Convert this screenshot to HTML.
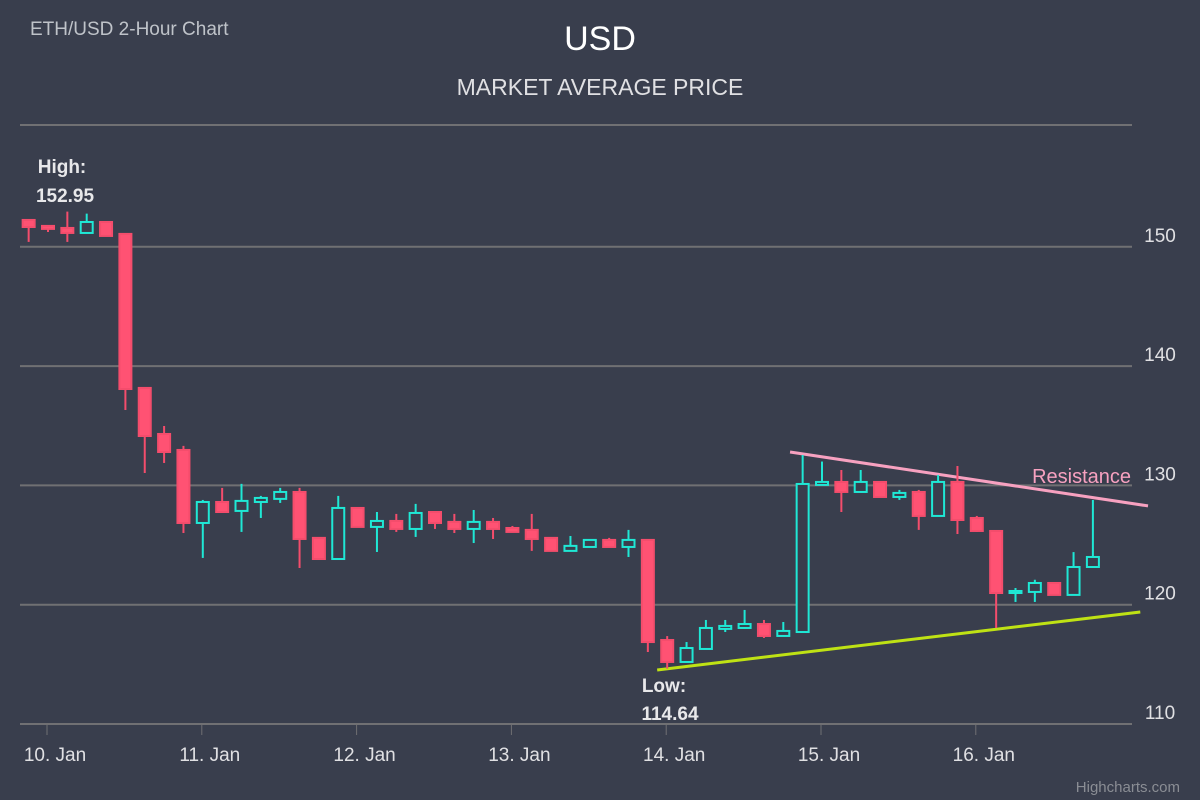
<!DOCTYPE html>
<html><head><meta charset="utf-8"><style>
html,body{margin:0;padding:0;background:#393e4d;}
svg{display:block;font-family:"Liberation Sans",sans-serif;}
</style></head><body>
<svg id="chart" width="1200" height="800" xmlns="http://www.w3.org/2000/svg">
<rect x="0" y="0" width="1200" height="800" fill="#393e4d"/>
<text x="30" y="35" font-size="19" fill="#bfc3c9">ETH/USD 2-Hour Chart</text>
<text x="600" y="50" font-size="34" fill="#ffffff" text-anchor="middle">USD</text>
<text x="600" y="95" font-size="23" fill="#e0e0e3" text-anchor="middle">MARKET AVERAGE PRICE</text>
<g id="grid"></g><g id="axes"></g><g id="lines"></g><g id="candles"></g>
<text x="62" y="173" font-size="19" font-weight="bold" fill="#e8e8ea" text-anchor="middle">High:</text>
<text x="65" y="202" font-size="19" font-weight="bold" fill="#e8e8ea" text-anchor="middle">152.95</text>
<text x="664" y="692" font-size="19" font-weight="bold" fill="#e8e8ea" text-anchor="middle">Low:</text>
<text x="670" y="720" font-size="19" font-weight="bold" fill="#e8e8ea" text-anchor="middle">114.64</text>
<text x="1131" y="483" font-size="20" fill="#f7a1c0" text-anchor="end">Resistance</text>
<text x="1180" y="792" font-size="15" fill="#8a8d94" text-anchor="end">Highcharts.com</text>
</svg>
<script>
const hours=[];for(let i=0;i<56;i++)hours.push((i-1)*3);
const opens=[152.25,151.75,151.58,151.16,152.08,151.08,138.17,134.31,132.97,126.85,128.61,127.86,128.61,128.87,129.45,125.60,123.83,128.11,126.52,127.02,126.35,127.77,126.94,126.35,126.94,126.43,126.27,125.60,124.51,124.84,125.43,124.84,125.43,117.04,115.20,116.29,117.97,118.05,118.38,117.38,117.71,130.04,130.29,129.45,130.29,129.03,129.45,127.44,130.29,127.27,126.18,120.98,121.07,121.82,120.82,123.16];
const highs=[152.25,151.75,152.95,152.78,152.08,151.08,138.17,134.98,133.31,128.78,129.79,130.13,129.12,129.79,129.79,125.60,129.12,128.11,127.77,127.61,128.45,127.77,127.61,127.94,127.27,126.60,127.61,125.60,125.76,125.43,125.60,126.27,125.43,117.37,116.87,118.72,118.72,119.56,118.72,118.55,132.55,132.00,131.29,131.29,130.29,129.62,129.62,130.88,131.63,127.44,126.18,121.40,122.09,121.82,124.41,128.78];
const lows=[150.41,151.24,150.41,151.16,150.91,136.32,131.04,131.88,126.01,123.92,127.69,126.10,127.27,128.53,123.08,123.83,123.83,126.52,124.42,126.10,125.68,126.35,126.01,125.17,125.51,126.10,124.51,124.51,124.51,124.84,124.84,124.00,116.03,114.64,115.20,116.29,117.71,118.05,117.21,117.38,117.63,130.04,127.77,129.45,129.03,128.78,126.27,127.44,125.93,126.10,118.05,120.23,120.23,120.82,120.82,123.16];
const closes=[151.66,151.50,151.16,152.08,150.91,138.08,134.14,132.80,126.85,128.61,127.77,128.70,128.95,129.45,125.51,123.83,128.11,126.52,127.02,126.35,127.69,126.85,126.35,126.94,126.35,126.10,125.51,124.51,124.93,125.43,124.84,125.43,116.87,115.20,116.37,118.05,118.22,118.38,117.38,117.80,130.12,130.29,129.45,130.29,129.03,129.37,127.44,130.29,127.10,126.18,120.98,121.15,121.82,120.82,123.16,124.00];
const yTicks=[110,120,130,140,150];
const dayHours=[0,24,48,72,96,120,144];
const dayLabels=["10. Jan","11. Jan","12. Jan","13. Jan","14. Jan","15. Jan","16. Jan"];
const resistance=[[115.2,132.80],[170.7,128.28]];
const support=[[94.6,114.53],[169.5,119.39]];
const NS="http://www.w3.org/2000/svg";
const X=h=>47+h*154.8/24;
const Y=v=>724-(v-110)*11.93;
function mk(tag,parent,attrs){const e=document.createElementNS(NS,tag);for(const k in attrs)e.setAttribute(k,attrs[k]);document.getElementById(parent).appendChild(e);return e;}
let e=mk('line','grid',{x1:20,x2:1132,y1:125,y2:125,stroke:'#707073','stroke-width':2});


yTicks.forEach(v=>{
 const g=mk('line','grid',{x1:20,x2:1132,y1:Y(v),y2:Y(v),stroke:'#707073','stroke-width':2});
 
 
 const t=mk('text','axes',{x:1160,y:Y(v)-5,'font-size':19,fill:'#e0e0e3','text-anchor':'middle'});
 t.textContent=v;
 
 
});
dayHours.forEach((h,i)=>{
 const tk=mk('line','axes',{x1:X(h),x2:X(h),y1:724,y2:735,stroke:'#707073','stroke-width':1});
 
 
 const t=mk('text','axes',{x:X(h)+8,y:761,'font-size':19,fill:'#e0e0e3','text-anchor':'middle'});
 t.textContent=dayLabels[i];
 
 
});
const r=mk('line','lines',{x1:X(resistance[0][0]),y1:Y(resistance[0][1]),x2:X(resistance[1][0]),y2:Y(resistance[1][1]),stroke:'#f7a1c0','stroke-width':3});


const s=mk('line','lines',{x1:X(support[0][0]),y1:Y(support[0][1]),x2:X(support[1][0]),y2:Y(support[1][1]),stroke:'#bfe214','stroke-width':3});


const W=12;
hours.forEach((h,i)=>{
 const up=closes[i]>=opens[i];
 const col=up?'#1fe8d5':'#f44d6c';
 const x=X(h)+1;
 const w=mk('line','candles',{x1:x,x2:x,y1:Y(highs[i]),y2:Y(lows[i]),stroke:col,'stroke-width':2});
 
 
 const top=Y(Math.max(opens[i],closes[i])),bot=Y(Math.min(opens[i],closes[i]));
 const b=mk('rect','candles',{x:x-W/2,y:top,width:W,height:Math.max(bot-top,2),fill:up?'#393e4d':'#ff5273',stroke:col,'stroke-width':2});
 
 
});
</script>
</body></html>
